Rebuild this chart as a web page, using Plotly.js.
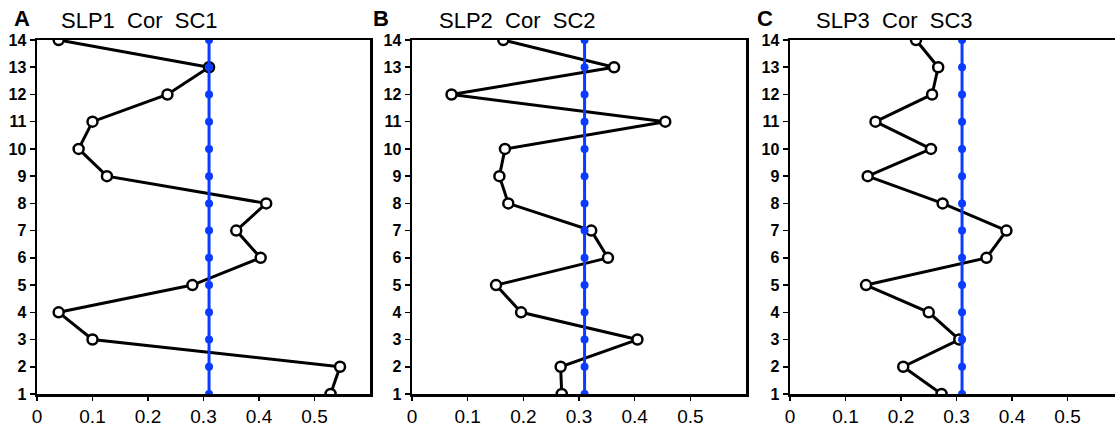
<!DOCTYPE html>
<html>
<head>
<meta charset="utf-8">
<script src="https://cdn.plot.ly/plotly-3.0.1.min.js"></script>
<style>
  html, body { margin: 0; padding: 0; background: #fff; overflow: hidden; }
  #chart { width: 1125px; height: 427px; }
</style>
</head>
<body>
<div id="chart"></div>
<script>
// Levels (y axis)
const levels = [14, 13, 12, 11, 10, 9, 8, 7, 6, 5, 4, 3, 2, 1];

// Correlation values (top to bottom, level 14 -> 1)
const slp1Cor = [0.039, 0.310, 0.235, 0.100, 0.075, 0.126, 0.413, 0.359, 0.403, 0.280, 0.039, 0.100, 0.546, 0.529];
const slp2Cor = [0.164, 0.363, 0.071, 0.455, 0.167, 0.157, 0.173, 0.322, 0.352, 0.151, 0.196, 0.405, 0.267, 0.269];
const slp3Cor = [0.227, 0.267, 0.256, 0.154, 0.254, 0.140, 0.275, 0.390, 0.354, 0.137, 0.250, 0.305, 0.204, 0.273];

// Significance threshold (blue line)
const threshold = [0.31, 0.31, 0.31, 0.31, 0.31, 0.31, 0.31, 0.31, 0.31, 0.31, 0.31, 0.31, 0.31, 0.31];

// Panel labels and titles
const panelLetters = ["A", "B", "C"];
const panelTitles = ["SLP1\u00a0\u00a0Cor\u00a0\u00a0SC1", "SLP2\u00a0\u00a0Cor\u00a0\u00a0SC2", "SLP3\u00a0\u00a0Cor\u00a0\u00a0SC3"];

// Tick labels
const xTickVals = [0, 0.1, 0.2, 0.3, 0.4, 0.5];
const xTickText = ["0", "0.1", "0.2", "0.3", "0.4", "0.5"];
const yTickVals = [1, 2, 3, 4, 5, 6, 7, 8, 9, 10, 11, 12, 13, 14];
const yTickText = ["1", "2", "3", "4", "5", "6", "7", "8", "9", "10", "11", "12", "13", "14"];

const series = [slp1Cor, slp2Cor, slp3Cor];

const W = 1125, H = 427;
const mL = 37, mR = 2, mT = 40, mB = 33;
const plotW = W - mL - mR;
const plotH = H - mT - mB;
// pixel extents of each panel
const panelPx = [[37, 370], [412, 746], [790, 1123]];
const letterPx = [22, 381, 765];
const titlePx = [59, 437, 814];

const blue = "#0a3cff";
const traces = [];
const layout = {
  width: W, height: H,
  margin: {l: mL, r: mR, t: mT, b: mB, pad: 0},
  paper_bgcolor: "#fff",
  plot_bgcolor: "#fff",
  showlegend: false,
  font: {family: "Liberation Sans, Arial, sans-serif", color: "#000"},
  annotations: []
};

function px2paperX(p) { return (p - mL) / plotW; }
function px2paperY(p) { return 1 + (mT - p) / plotH; }

for (let i = 0; i < 3; i++) {
  const xa = i === 0 ? "x" : "x" + (i + 1);
  const ya = i === 0 ? "y" : "y" + (i + 1);
  const xk = i === 0 ? "xaxis" : "xaxis" + (i + 1);
  const yk = i === 0 ? "yaxis" : "yaxis" + (i + 1);

  traces.push({
    x: series[i], y: levels, xaxis: xa, yaxis: ya,
    type: "scatter", mode: "lines+markers",
    line: {color: "#000", width: 3},
    marker: {symbol: "circle", size: 10, color: "#fff", line: {color: "#000", width: 2.5}},
    hoverinfo: "x+y"
  });
  traces.push({
    x: threshold, y: levels, xaxis: xa, yaxis: ya,
    type: "scatter", mode: "lines+markers",
    line: {color: blue, width: 3},
    marker: {symbol: "circle", size: 8, color: blue},
    hoverinfo: "x+y"
  });

  const d0 = px2paperX(panelPx[i][0]);
  const d1 = px2paperX(panelPx[i][1]);
  layout[xk] = {
    domain: [d0, Math.min(1, d1)],
    anchor: ya,
    range: [0, 0.6],
    tickvals: xTickVals, ticktext: xTickText,
    ticks: "outside", ticklen: 4, tickwidth: 1.5, tickcolor: "#000",
    showline: true, linecolor: "#000", linewidth: 2.5, mirror: true,
    showgrid: false, zeroline: false,
    tickfont: {family: "Liberation Sans, Arial, sans-serif", size: 19, color: "#000"},
    fixedrange: true
  };
  layout[yk] = {
    domain: [0, 1],
    anchor: xa,
    range: [1, 14],
    tickvals: yTickVals, ticktext: yTickText,
    ticks: "outside", ticklen: 5, tickwidth: 1.5, tickcolor: "#000",
    showline: true, linecolor: "#000", linewidth: 2.5, mirror: true,
    showgrid: false, zeroline: false,
    tickfont: {family: "Liberation Sans, Arial, sans-serif", size: 16, color: "#000", weight: "bold"},
    fixedrange: true
  };

  layout.annotations.push({
    text: panelLetters[i], xref: "paper", yref: "paper",
    x: px2paperX(letterPx[i]), y: px2paperY(19),
    xanchor: "center", yanchor: "middle", showarrow: false,
    font: {family: "Liberation Sans, Arial, sans-serif", size: 22, color: "#000", weight: "bold"}
  });
  layout.annotations.push({
    text: panelTitles[i], xref: "paper", yref: "paper",
    x: px2paperX(titlePx[i]), y: px2paperY(20),
    xanchor: "left", yanchor: "middle", showarrow: false,
    font: {family: "Liberation Sans, Arial, sans-serif", size: 22, color: "#000"}
  });
}

Plotly.newPlot("chart", traces, layout, {displayModeBar: false, staticPlot: true});
</script>
</body>
</html>
